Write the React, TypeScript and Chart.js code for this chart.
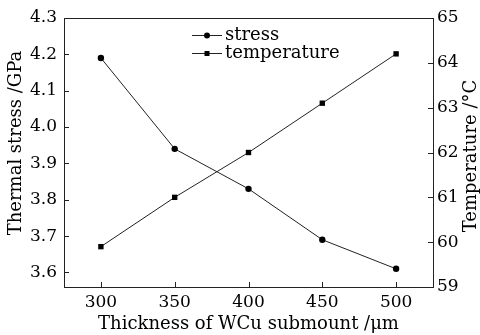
import React, { useEffect, useRef } from "react";
import { Chart, registerables } from "chart.js";

Chart.register(...registerables);

const thickness = [300, 350, 400, 450, 500];
const stress = [4.19, 3.94, 3.83, 3.69, 3.61];
const temperature = [59.9, 61.0, 62.0, 63.1, 64.2];
const xTicks = [300, 350, 400, 450, 500];
const stressTicks = [3.6, 3.7, 3.8, 3.9, 4.0, 4.1, 4.2, 4.3];
const tempTicks = [59, 60, 61, 62, 63, 64, 65];

const FONT = "'DejaVu Serif', serif";
const INK = "#000";
const LINE = "#222";

const decorPlugin = {
  id: "decor",
  afterDraw(chart: any) {
    const { ctx, chartArea: a, scales } = chart;
    ctx.save();
    // box
    ctx.strokeStyle = LINE;
    ctx.lineWidth = 1;
    ctx.strokeRect(Math.round(a.left) + 0.5, Math.round(a.top) + 0.5, Math.round(a.right - a.left), Math.round(a.bottom - a.top));
    // inward ticks
    const tl = 5;
    ctx.beginPath();
    scales.x.ticks.forEach((t: any) => {
      const px = Math.round(scales.x.getPixelForValue(t.value)) + 0.5;
      ctx.moveTo(px, a.bottom);
      ctx.lineTo(px, a.bottom - tl);
    });
    scales.y.ticks.forEach((t: any) => {
      const py = Math.round(scales.y.getPixelForValue(t.value)) + 0.5;
      ctx.moveTo(a.left, py);
      ctx.lineTo(a.left + tl, py);
    });
    scales.y1.ticks.forEach((t: any) => {
      const py = Math.round(scales.y1.getPixelForValue(t.value)) + 0.5;
      ctx.moveTo(a.right, py);
      ctx.lineTo(a.right - tl, py);
    });
    ctx.stroke();

    // y titles
    ctx.fillStyle = INK;
    ctx.font = `18px ${FONT}`;
    ctx.textAlign = "center";
    ctx.textBaseline = "middle";
    ctx.save();
    ctx.translate(16, 143);
    ctx.rotate(-Math.PI / 2);
    ctx.fillText("Thermal stress /GPa", 0, 0);
    ctx.restore();
    ctx.save();
    ctx.translate(471, 156);
    ctx.rotate(-Math.PI / 2);
    ctx.fillText("Temperature /°C", 0, 0);
    ctx.restore();

    // legend
    const items = [
      { label: "stress", y: 35, marker: "circle" },
      { label: "temperature", y: 53, marker: "square" },
    ];
    items.forEach((it) => {
      ctx.strokeStyle = LINE;
      ctx.beginPath();
      ctx.moveTo(192, it.y + 0.5);
      ctx.lineTo(222, it.y + 0.5);
      ctx.stroke();
      ctx.fillStyle = INK;
      if (it.marker === "circle") {
        ctx.beginPath();
        ctx.arc(207, it.y + 0.5, 3, 0, Math.PI * 2);
        ctx.fill();
      } else {
        ctx.fillRect(204.5, it.y - 2, 5, 5);
      }
      ctx.textAlign = "left";
      ctx.textBaseline = "middle";
      ctx.font = `18px ${FONT}`;
      ctx.fillText(it.label, 225, it.y);
    });
    ctx.restore();
  },
};

export default function App() {
  const ref = useRef<HTMLCanvasElement | null>(null);
  useEffect(() => {
    document.body.style.margin = "0";
    const canvas = ref.current;
    if (!canvas) return;
    const tickFont = { family: FONT, size: 17 };
    const chart = new Chart(canvas, {
      type: "line",
      data: {
        datasets: [
          {
            label: "stress",
            data: thickness.map((x, i) => ({ x, y: stress[i] })),
            yAxisID: "y",
            borderColor: LINE,
            borderWidth: 1,
            pointStyle: "circle",
            pointRadius: 3.2,
            pointBackgroundColor: INK,
            pointBorderColor: INK,
            pointBorderWidth: 0,
          },
          {
            label: "temperature",
            data: thickness.map((x, i) => ({ x, y: temperature[i] })),
            yAxisID: "y1",
            borderColor: LINE,
            borderWidth: 1,
            pointStyle: "rect",
            pointRadius: 3.8,
            pointBackgroundColor: INK,
            pointBorderColor: INK,
            pointBorderWidth: 0,
          },
        ],
      },
      plugins: [decorPlugin],
      options: {
        responsive: false,
        animation: false,
        devicePixelRatio: 1,
        layout: { padding: { top: 18, left: 0, right: 0, bottom: 0 } },
        plugins: { legend: { display: false }, tooltip: { enabled: false } },
        scales: {
          x: {
            type: "linear",
            min: 275,
            max: 525,
            grid: { display: false, drawTicks: false },
            border: { display: false },
            afterBuildTicks: (s: any) => {
              s.ticks = xTicks.map((v) => ({ value: v }));
            },
            afterFit: (s: any) => {
              s.height = 48;
            },
            ticks: { font: tickFont, color: INK, padding: 5, maxRotation: 0 },
            title: {
              display: true,
              text: "Thickness of WCu submount /μm",
              font: { family: FONT, size: 18 },
              color: INK,
              padding: { top: 0, bottom: 0 },
            },
          },
          y: {
            type: "linear",
            position: "left",
            min: 3.56,
            max: 4.3,
            grid: { display: false, drawTicks: false },
            border: { display: false },
            afterBuildTicks: (s: any) => {
              s.ticks = stressTicks.map((v) => ({ value: v }));
            },
            afterFit: (s: any) => {
              s.width = 64;
            },
            ticks: {
              font: tickFont,
              color: INK,
              padding: 7,
              callback: (v: any) => Number(v).toFixed(1),
            },
          },
          y1: {
            type: "linear",
            position: "right",
            min: 59,
            max: 65,
            grid: { display: false, drawTicks: false },
            border: { display: false },
            afterBuildTicks: (s: any) => {
              s.ticks = tempTicks.map((v) => ({ value: v }));
            },
            afterFit: (s: any) => {
              s.width = 47;
            },
            ticks: { font: tickFont, color: INK, padding: 4 },
          },
        },
      },
    } as any);
    return () => chart.destroy();
  }, []);
  return (
    <div style={{ width: 480, height: 335, background: "#fff" }}>
      <canvas ref={ref} width={480} height={335} style={{ display: "block" }} />
    </div>
  );
}
